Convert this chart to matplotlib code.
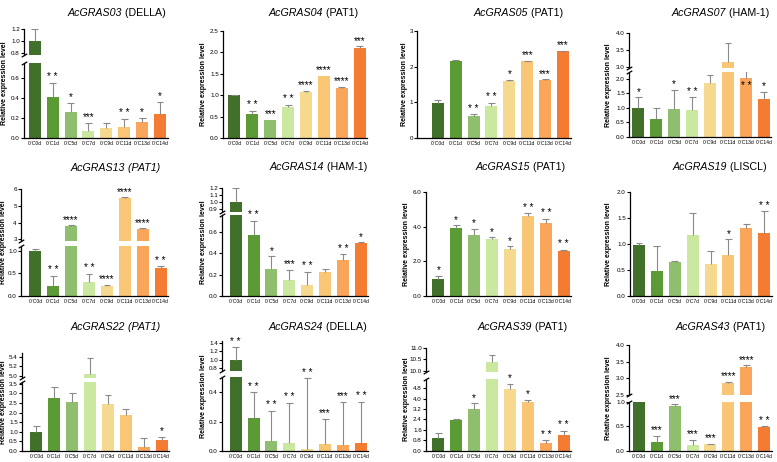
import matplotlib
matplotlib.use('Agg')
import matplotlib.pyplot as plt
import numpy as np

plt.rcParams['font.family'] = ['Liberation Sans', 'DejaVu Sans']

# ---------------- data ----------------
categories = ['0°C0d', '0°C1d', '0°C5d', '0°C7d', '0°C9d', '0°C11d', '0°C13d', '0°C14d']
colors = ['#41702a', '#5b9a34', '#8fbf6e', '#cbe8a0', '#f5d98f', '#f8c675', '#f9a55a', '#f47c32']

g03_mean = [1.0, 0.41, 0.26, 0.07, 0.10, 0.11, 0.165, 0.24]
g03_err = [0.19, 0.14, 0.093, 0.083, 0.053, 0.08, 0.034, 0.123]
g03_sig = ['', '**', '*', '***', '', '**', '*', '*']

g04_mean = [1.0, 0.56, 0.43, 0.72, 1.08, 1.46, 1.17, 2.11]
g04_err = [0.01, 0.07, 0.0, 0.05, 0.02, 0.0, 0.03, 0.03]
g04_sig = ['', '**', '***', '**', '****', '****', '****', '***']

g05_mean = [0.99, 2.17, 0.62, 0.89, 1.60, 2.15, 1.63, 2.43]
g05_err = [0.07, 0.01, 0.05, 0.10, 0.03, 0.02, 0.02, 0.02]
g05_sig = ['', '', '**', '**', '*', '***', '***', '***']

g07_mean = [1.0, 0.62, 0.965, 0.92, 1.86, 3.15, 2.03, 1.31]
g07_err = [0.36, 0.37, 0.665, 0.45, 0.26, 0.55, 0.23, 0.24]
g07_sig = ['*', '', '*', '**', '', '', '**', '*']

g13_mean = [1.01, 0.22, 3.8, 0.31, 0.22, 5.48, 3.62, 0.61]
g13_err = [0.03, 0.23, 0.04, 0.18, 0.02, 0.04, 0.04, 0.05]
g13_sig = ['', '**', '****', '**', '****', '****', '****', '**']

g14_mean = [1.0, 0.567, 0.25, 0.15, 0.106, 0.22, 0.333, 0.49]
g14_err = [0.2, 0.133, 0.12, 0.093, 0.119, 0.033, 0.057, 0.01]
g14_sig = ['', '**', '*', '***', '**', '', '**', '*']

g15_mean = [0.95, 3.91, 3.54, 3.31, 2.71, 4.64, 4.24, 2.61]
g15_err = [0.19, 0.17, 0.33, 0.08, 0.15, 0.14, 0.21, 0.04]
g15_sig = ['*', '*', '*', '*', '*', '**', '**', '**']

g19_mean = [0.98, 0.48, 0.645, 1.17, 0.62, 0.79, 1.30, 1.21]
g19_err = [0.03, 0.48, 0.025, 0.43, 0.24, 0.30, 0.08, 0.42]
g19_sig = ['', '', '', '', '', '*', '', '**']

g22_mean = [0.99, 2.76, 2.53, 5.04, 2.46, 1.87, 0.21, 0.55]
g22_err = [0.33, 0.55, 0.50, 0.33, 0.43, 0.31, 0.48, 0.18]
g22_sig = ['', '', '', '', '', '', '', '*']

g24_mean = [1.0, 0.223, 0.066, 0.057, 0.014, 0.048, 0.043, 0.055]
g24_err = [0.29, 0.177, 0.207, 0.27, 0.481, 0.17, 0.29, 0.28]
g24_sig = ['**', '**', '**', '**', '**', '***', '***', '**']

g39_mean = [0.97, 2.33, 3.23, 10.39, 4.72, 3.72, 0.62, 1.23]
g39_err = [0.39, 0.11, 0.41, 0.31, 0.43, 0.18, 0.17, 0.31]
g39_sig = ['', '', '*', '', '*', '*', '**', '**']

g43_mean = [1.0, 0.18, 0.91, 0.11, 0.13, 2.87, 3.34, 0.48]
g43_err = [0.0, 0.12, 0.04, 0.11, 0.01, 0.02, 0.05, 0.02]
g43_sig = ['', '***', '***', '***', '***', '****', '****', '**']

# tick values
t03_lo = [0.0, 0.2, 0.4, 0.6]; t03_hi = [0.8, 1.0, 1.2]
t04 = [0.0, 0.5, 1.0, 1.5, 2.0, 2.5]
t05 = [0, 1, 2, 3]
t07_lo = [0.0, 0.5, 1.0, 1.5, 2.0]; t07_hi = [3.0, 3.5, 4.0]
t13_lo = [0.0, 0.5, 1.0]; t13_hi = [3, 4, 5, 6]
t14_lo = [0.0, 0.2, 0.4, 0.6]; t14_hi = [0.9, 1.0, 1.1, 1.2]
t15 = [0.0, 2.0, 4.0, 6.0]
t19 = [0.0, 0.5, 1.0, 1.5, 2.0]
t22_lo = [0.0, 0.5, 1.0, 1.5, 2.0, 2.5, 3.0, 3.5]; t22_hi = [5.0, 5.2, 5.4]
t24_lo = [0.0, 0.2, 0.4]; t24_hi = [0.8, 1.0, 1.2, 1.4]
t39_lo = [0.0, 0.8, 1.6, 2.4, 3.2, 4.0, 4.8]; t39_hi = [10.0, 10.5, 11.0]
t43_lo = [0.0, 0.5, 1.0]; t43_hi = [2.5, 3.0, 3.5, 4.0]

# ---------------- layout ----------------
W, H = 777, 462
fig = plt.figure(figsize=(W / 100, H / 100), dpi=100)
S = 17.9       # px per category
RO = 0.42
ECOL = '#8a8a8a'

panels = [
    ('AcGRAS03', ' (DELLA)', False, g03_mean, g03_err, g03_sig, 24, 0.6, 138,
     (63, 0.75, t03_lo, '%.1f'), (55, 28.7, (0.765, 1.2), t03_hi, '%.1f'), (117, 13), 4.5),
    ('AcGRAS04', ' (PAT1)', False, g04_mean, g04_err, g04_sig, 223, 0.64, 138,
     (31, 2.5, t04, '%.1f'), None, (313, 13), 204),
    ('AcGRAS05', ' (PAT1)', False, g05_mean, g05_err, g05_sig, 417, 1.16, 138,
     (31, 3.0, t05, '%d'), None, (518, 13), 405),
    ('AcGRAS07', ' (HAM-1)', False, g07_mean, g07_err, g07_sig, 629, 0.53, 136.7,
     (71.7, 2.25, t07_lo, '%.1f'), (68.3, 33.3, (2.95, 4.0), t07_hi, '%.1f'), (720, 13), 609),
    ('AcGRAS13', ' (PAT1)', True, g13_mean, g13_err, g13_sig, 21, 0.8, 295.7,
     (245.7, 1.12, t13_lo, '%.1f'), (240.6, 189.3, (2.93, 6.0), t13_hi, '%d'), (115, 168), 4),
    ('AcGRAS14', ' (HAM-1)', False, g14_mean, g14_err, g14_sig, 222, 0.76, 296,
     (215, 0.755, t14_lo, '%.1f'), (212.3, 187.7, (0.853, 1.2), t14_hi, '%.1f'), (318, 167), 204),
    ('AcGRAS15', ' (PAT1)', False, g15_mean, g15_err, g15_sig, 426, 0.69, 295.7,
     (192.3, 6.0, t15, '%.1f'), None, (520, 167), 406),
    ('AcGRAS19', ' (LISCL)', False, g19_mean, g19_err, g19_sig, 630, 0.5, 295.7,
     (192.3, 2.0, t19, '%.1f'), None, (720, 167), 609),
    ('AcGRAS22', ' (PAT1)', True, g22_mean, g22_err, g22_sig, 22, 0.8, 451,
     (382, 3.59, t22_lo, '%.1f'), (377.7, 353.3, (4.97, 5.47), t22_hi, '%.1f'), (115, 327), 4),
    ('AcGRAS24', ' (DELLA)', False, g24_mean, g24_err, g24_sig, 222, 0.76, 451,
     (376.7, 0.506, t24_lo, '%.1f'), (371, 340.5, (0.74, 1.45), t24_hi, '%.1f'), (318, 327), 204),
    ('AcGRAS39', ' (PAT1)', False, g39_mean, g39_err, g39_sig, 426, 0.69, 450.7,
     (379, 5.51, t39_lo, '%.1f'), (371.7, 347.7, (9.96, 11.0), t39_hi, '%.1f'), (522, 327), 406),
    ('AcGRAS43', ' (PAT1)', False, g43_mean, g43_err, g43_sig, 629, 0.55, 450.7,
     (401.7, 1.0, t43_lo, '%.1f'), (395, 345, (2.5, 4.0), t43_hi, '%.1f'), (720, 327), 609),
]


def add_axes_px(x0, x1, ybot, ytop):
    ax = fig.add_axes([x0 / W, 1 - ybot / H, (x1 - x0) / W, (ybot - ytop) / H])
    ax.patch.set_visible(False)
    return ax


def break_mark(ax, y):
    ax.plot([0], [y], transform=ax.transAxes, marker=[(-1, -0.6), (1, 0.6)],
            markersize=4, linestyle='none', color='k', mec='k', mew=0.9, clip_on=False)


def draw_bars(ax, mean, err):
    x = np.arange(len(mean))
    m = np.array(mean)
    e = np.array(err)
    ax.bar(x, m, width=0.67, color=colors, edgecolor='none', zorder=2)
    mask = e > 0
    ax.vlines(x[mask], m[mask], (m + e)[mask], color=ECOL, lw=0.8, zorder=3)
    ax.hlines((m + e)[mask], x[mask] - 0.19, x[mask] + 0.19, color=ECOL, lw=0.8, zorder=3)


def style(ax, ticks, fmt, bottom=True):
    for sp in ['top', 'right']:
        ax.spines[sp].set_visible(False)
    ax.spines['left'].set_linewidth(0.9)
    ax.spines['bottom'].set_linewidth(0.9)
    ax.set_yticks(ticks)
    ax.set_yticklabels([fmt % t for t in ticks])
    ax.tick_params(axis='y', length=2.2, width=0.8, labelsize=4.5, pad=0.8)
    if bottom:
        ax.set_xticks(np.arange(len(categories)))
        ax.set_xticklabels(categories)
        ax.tick_params(axis='x', length=0, labelsize=3.6, pad=2.5)
    else:
        ax.spines['bottom'].set_visible(False)
        ax.set_xticks([])


def star_text(s):
    return '* *' if s == '**' else s


renderer = fig.canvas.get_renderer()

for (gene, sub, ital_all, mean, err, sig, x0, lo, y0, lower, upper, tpos, ylx) in panels:
    x1 = x0 + (7 + lo + RO) * S
    ltop_px, ltop, lticks, lfmt = lower
    axl = add_axes_px(x0, x1, y0, ltop_px)
    draw_bars(axl, mean, err)
    axl.set_xlim(-lo, 7 + RO)
    axl.set_ylim(0, ltop)
    style(axl, lticks, lfmt, bottom=True)
    axu = None
    if upper is not None:
        ub_px, ut_px, ulim, uticks, ufmt = upper
        axu = add_axes_px(x0, x1, ub_px, ut_px)
        draw_bars(axu, mean, err)
        axu.set_xlim(-lo, 7 + RO)
        axu.set_ylim(*ulim)
        style(axu, uticks, ufmt, bottom=False)
        break_mark(axl, 1)
        break_mark(axu, 0)
    # significance stars
    for i, s in enumerate(sig):
        if not s:
            continue
        top = mean[i] + err[i]
        ax = axl
        if axu is not None and top > ltop:
            ax = axu
        ax.annotate(star_text(s), (i, top), xytext=(0, 0.4), textcoords='offset points',
                    ha='center', va='bottom', fontsize=7.2, color='k',
                    annotation_clip=False, zorder=5)
    # y label
    ymid = (y0 + (upper[1] if upper is not None else ltop_px)) / 2
    fig.text(ylx / W, 1 - ymid / H, 'Relative expression level', rotation=90,
             ha='center', va='center', fontsize=5.0, fontweight='bold')
    # title (italic gene + subtitle)
    cx, cy = tpos
    t1 = fig.text(cx / W, 1 - cy / H, gene, fontsize=7.7, style='italic',
                  ha='left', va='center')
    t2 = fig.text(0, 0, sub, fontsize=7.7, style='italic' if ital_all else 'normal',
                  ha='left', va='center')
    w1 = t1.get_window_extent(renderer).width
    w2 = t2.get_window_extent(renderer).width
    left = cx - (w1 + w2) / 2
    t1.set_position((left / W, 1 - cy / H))
    t2.set_position(((left + w1) / W, 1 - cy / H))

fig.savefig('out.png', dpi=100)
